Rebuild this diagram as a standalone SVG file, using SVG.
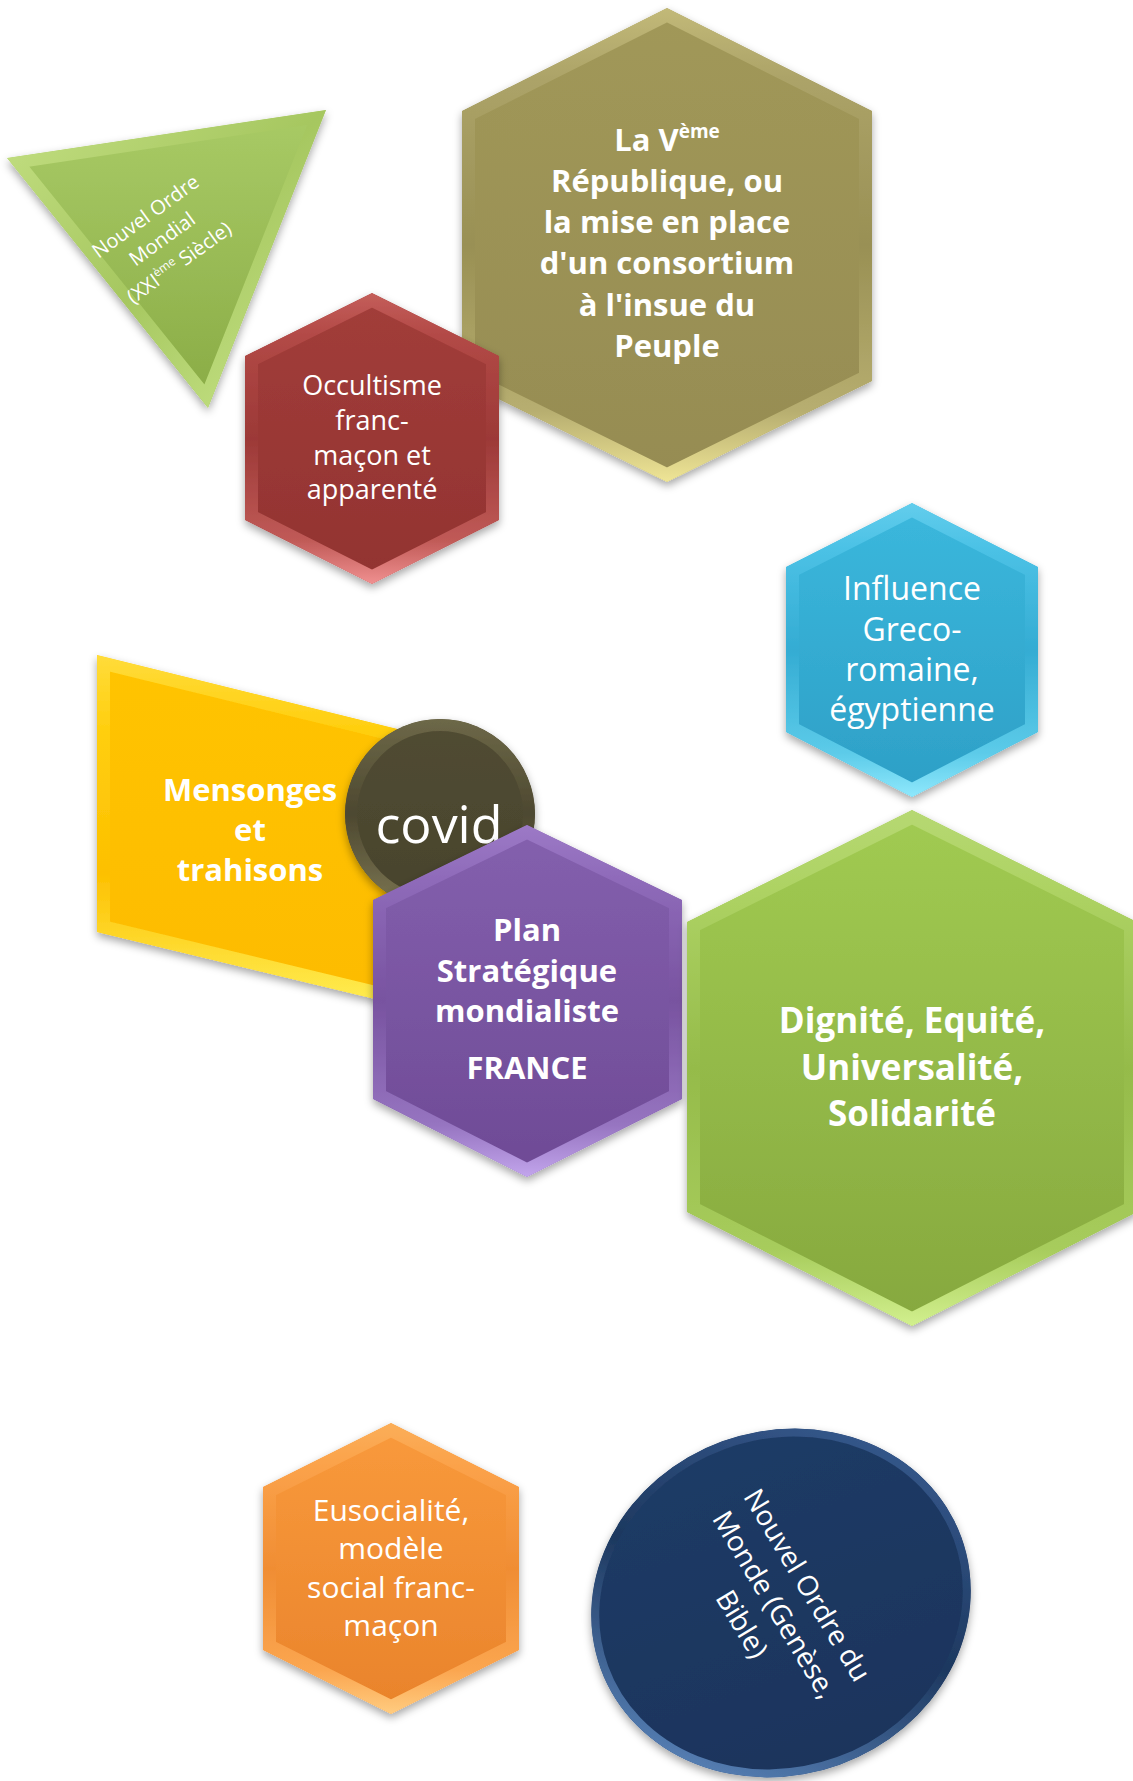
<svg xmlns="http://www.w3.org/2000/svg" width="1133" height="1781" viewBox="0 0 1133 1781">
<style>
.t{font-family:"Open Sans","DejaVu Sans",sans-serif;fill:#ffffff;text-anchor:middle}
.b{font-weight:700}
.bev{stroke-linejoin:miter}
</style>
<defs>
<filter id="sh" x="-15%" y="-15%" width="130%" height="135%">
<feDropShadow dx="0" dy="4" stdDeviation="4" flood-color="#000" flood-opacity="0.35"/>
</filter>
<linearGradient id="triB" x1="0" y1="0" x2="0" y2="1"><stop offset="0" stop-color="#a9cb66"/><stop offset="1" stop-color="#89ab45"/></linearGradient>
<linearGradient id="triS" x1="0" y1="0" x2="1" y2="1"><stop offset="0" stop-color="#c3df82"/><stop offset="0.5" stop-color="#a6c760"/><stop offset="1" stop-color="#c9e68a"/></linearGradient>
<linearGradient id="olB" x1="0" y1="0" x2="0" y2="1"><stop offset="0" stop-color="#a19859"/><stop offset="1" stop-color="#968c52"/></linearGradient>
<linearGradient id="olS" x1="0" y1="0" x2="0" y2="1"><stop offset="0" stop-color="#c2b978"/><stop offset="0.15" stop-color="#aca368"/><stop offset="0.5" stop-color="#999054"/><stop offset="0.85" stop-color="#b7ae70"/><stop offset="1" stop-color="#efe596"/></linearGradient>
<linearGradient id="reB" x1="0" y1="0" x2="0" y2="1"><stop offset="0" stop-color="#a23d3a"/><stop offset="1" stop-color="#923331"/></linearGradient>
<linearGradient id="reS" x1="0" y1="0" x2="0" y2="1"><stop offset="0" stop-color="#c45e5a"/><stop offset="0.15" stop-color="#b24946"/><stop offset="0.5" stop-color="#9c3937"/><stop offset="0.85" stop-color="#c05a57"/><stop offset="1" stop-color="#f09090"/></linearGradient>
<linearGradient id="blB" x1="0" y1="0" x2="0" y2="1"><stop offset="0" stop-color="#3bb8dd"/><stop offset="1" stop-color="#2d9fc6"/></linearGradient>
<linearGradient id="blS" x1="0" y1="0" x2="0" y2="1"><stop offset="0" stop-color="#62cdec"/><stop offset="0.15" stop-color="#4cc2e6"/><stop offset="0.5" stop-color="#34acd3"/><stop offset="0.85" stop-color="#5ccbe9"/><stop offset="1" stop-color="#8fe8fc"/></linearGradient>
<linearGradient id="yeB" x1="0" y1="0" x2="0" y2="1"><stop offset="0" stop-color="#ffc400"/><stop offset="1" stop-color="#fdbb00"/></linearGradient>
<linearGradient id="yeS" x1="0" y1="0" x2="0" y2="1"><stop offset="0" stop-color="#ffdc3a"/><stop offset="0.2" stop-color="#ffcf10"/><stop offset="0.6" stop-color="#fdc000"/><stop offset="1" stop-color="#fff25a"/></linearGradient>
<linearGradient id="coB" x1="0" y1="0" x2="0" y2="1"><stop offset="0" stop-color="#514c33"/><stop offset="1" stop-color="#48432c"/></linearGradient>
<linearGradient id="coS" x1="0" y1="0" x2="0" y2="1"><stop offset="0" stop-color="#6d6848"/><stop offset="0.5" stop-color="#4d4830"/><stop offset="1" stop-color="#7d7753"/></linearGradient>
<linearGradient id="puB" x1="0" y1="0" x2="0" y2="1"><stop offset="0" stop-color="#8460ae"/><stop offset="1" stop-color="#6e4a95"/></linearGradient>
<linearGradient id="puS" x1="0" y1="0" x2="0" y2="1"><stop offset="0" stop-color="#9c79c6"/><stop offset="0.15" stop-color="#8f6bba"/><stop offset="0.5" stop-color="#7853a0"/><stop offset="0.85" stop-color="#9674c0"/><stop offset="1" stop-color="#c2a5ec"/></linearGradient>
<linearGradient id="grB" x1="0" y1="0" x2="0" y2="1"><stop offset="0" stop-color="#a1cb52"/><stop offset="1" stop-color="#86a83e"/></linearGradient>
<linearGradient id="grS" x1="0" y1="0" x2="0" y2="1"><stop offset="0" stop-color="#b6d872"/><stop offset="0.15" stop-color="#aed364"/><stop offset="0.5" stop-color="#95bb4a"/><stop offset="0.85" stop-color="#a7cc5c"/><stop offset="1" stop-color="#d2f08e"/></linearGradient>
<linearGradient id="orB" x1="0" y1="0" x2="0" y2="1"><stop offset="0" stop-color="#f99a3c"/><stop offset="1" stop-color="#e9832b"/></linearGradient>
<linearGradient id="orS" x1="0" y1="0" x2="0" y2="1"><stop offset="0" stop-color="#fbae58"/><stop offset="0.15" stop-color="#fba24a"/><stop offset="0.5" stop-color="#f08d33"/><stop offset="0.85" stop-color="#fba650"/><stop offset="1" stop-color="#ffcc80"/></linearGradient>
<linearGradient id="naB" x1="0" y1="0" x2="0" y2="1"><stop offset="0" stop-color="#1f3b66"/><stop offset="1" stop-color="#1b345c"/></linearGradient>
<linearGradient id="naS" x1="1" y1="0" x2="0" y2="1"><stop offset="0" stop-color="#3d629a"/><stop offset="0.5" stop-color="#1d385f"/><stop offset="1" stop-color="#6a98d2"/></linearGradient>
<clipPath id="cTri"><polygon points="7,158 326,110 208,408"/></clipPath>
<clipPath id="cOl"><polygon points="667,8 462,111 462,381 667,482 872,381 872,111"/></clipPath>
<clipPath id="cRe"><polygon points="372,293 245,356 245,520 372,584 499,520 499,356"/></clipPath>
<clipPath id="cBl"><polygon points="912,503 786,567 786,732 912,797 1038,732 1038,567"/></clipPath>
<clipPath id="cYe"><polygon points="97,655 450,742 450,1017 97,932"/></clipPath>
<clipPath id="cCo"><circle cx="440" cy="814" r="95"/></clipPath>
<clipPath id="cPu"><polygon points="527,825 373,900 373,1099 527,1177 682,1099 682,900"/></clipPath>
<clipPath id="cGr"><polygon points="912,810 687,922 687,1212 912,1326 1137,1212 1137,922"/></clipPath>
<clipPath id="cOr"><polygon points="391,1423 263,1487 263,1650 391,1714 519,1650 519,1487"/></clipPath>
<clipPath id="cNa"><ellipse cx="781" cy="1603" rx="192" ry="172" transform="rotate(-20 781 1603)"/></clipPath>
</defs>

<g id="connectors"></g>

<g id="node-nouvel-ordre-mondial">
<g filter="url(#sh)"><g clip-path="url(#cTri)"><polygon class="bev" points="7,158 326,110 208,408" fill="url(#triB)" stroke="url(#triS)" stroke-width="24"/></g></g>
<g transform="translate(162,239) rotate(-36)">
<text class="t" font-size="20" x="0" y="-21">Nouvel Ordre</text>
<text class="t" font-size="20" x="0" y="7">Mondial</text>
<text class="t" font-size="20" x="0" y="36">(XXI<tspan font-size="12" dy="-8">ème</tspan><tspan dy="8"> Siècle)</tspan></text>
</g>
</g>

<g id="node-veme-republique">
<g filter="url(#sh)"><g clip-path="url(#cOl)"><polygon class="bev" points="667,8 462,111 462,381 667,482 872,381 872,111" fill="url(#olB)" stroke="url(#olS)" stroke-width="26"/></g></g>
<text class="t b" font-size="31" x="667" y="151">La V<tspan font-size="19" dy="-13">ème</tspan></text>
<text class="t b" font-size="31" x="667" y="192">République, ou</text>
<text class="t b" font-size="31" x="667" y="233">la mise en place</text>
<text class="t b" font-size="31" x="667" y="274">d'un consortium</text>
<text class="t b" font-size="31" x="667" y="316">à l'insue du</text>
<text class="t b" font-size="31" x="667" y="357">Peuple</text>
</g>

<g id="node-occultisme">
<g filter="url(#sh)"><g clip-path="url(#cRe)"><polygon class="bev" points="372,293 245,356 245,520 372,584 499,520 499,356" fill="url(#reB)" stroke="url(#reS)" stroke-width="26"/></g></g>
<text class="t" font-size="27" x="372" y="395">Occultisme</text>
<text class="t" font-size="27" x="372" y="430">franc-</text>
<text class="t" font-size="27" x="372" y="465">maçon et</text>
<text class="t" font-size="27" x="372" y="499">apparenté</text>
</g>

<g id="node-influence">
<g filter="url(#sh)"><g clip-path="url(#cBl)"><polygon class="bev" points="912,503 786,567 786,732 912,797 1038,732 1038,567" fill="url(#blB)" stroke="url(#blS)" stroke-width="26"/></g></g>
<text class="t" font-size="32" x="912" y="600">Influence</text>
<text class="t" font-size="32" x="912" y="641">Greco-</text>
<text class="t" font-size="32" x="912" y="681">romaine,</text>
<text class="t" font-size="32" x="912" y="721">égyptienne</text>
</g>

<g id="node-mensonges">
<g filter="url(#sh)"><g clip-path="url(#cYe)"><polygon class="bev" points="97,655 450,742 450,1017 97,932" fill="url(#yeB)" stroke="url(#yeS)" stroke-width="26"/></g></g>
<text class="t b" font-size="31" x="250" y="801">Mensonges</text>
<text class="t b" font-size="31" x="250" y="841">et</text>
<text class="t b" font-size="31" x="250" y="881">trahisons</text>
</g>

<g id="node-covid">
<g filter="url(#sh)"><g clip-path="url(#cCo)"><circle cx="440" cy="814" r="95" fill="url(#coB)" stroke="url(#coS)" stroke-width="24"/></g></g>
<text class="t" font-size="52" x="439" y="843">covid</text>
</g>

<g id="node-plan-strategique">
<g filter="url(#sh)"><g clip-path="url(#cPu)"><polygon class="bev" points="527,825 373,900 373,1099 527,1177 682,1099 682,900" fill="url(#puB)" stroke="url(#puS)" stroke-width="26"/></g></g>
<text class="t b" font-size="31" x="527" y="941">Plan</text>
<text class="t b" font-size="31" x="527" y="982">Stratégique</text>
<text class="t b" font-size="31" x="527" y="1022">mondialiste</text>
<text class="t b" font-size="31" x="527" y="1079">FRANCE</text>
</g>

<g id="node-dignite">
<g filter="url(#sh)"><g clip-path="url(#cGr)"><polygon class="bev" points="912,810 687,922 687,1212 912,1326 1137,1212 1137,922" fill="url(#grB)" stroke="url(#grS)" stroke-width="26"/></g></g>
<text class="t b" font-size="35" x="912" y="1033">Dignité, Equité,</text>
<text class="t b" font-size="35" x="912" y="1080">Universalité,</text>
<text class="t b" font-size="35" x="912" y="1126">Solidarité</text>
</g>

<g id="node-eusocialite">
<g filter="url(#sh)"><g clip-path="url(#cOr)"><polygon class="bev" points="391,1423 263,1487 263,1650 391,1714 519,1650 519,1487" fill="url(#orB)" stroke="url(#orS)" stroke-width="26"/></g></g>
<text class="t" font-size="30" x="391" y="1521">Eusocialité,</text>
<text class="t" font-size="30" x="391" y="1559">modèle</text>
<text class="t" font-size="30" x="391" y="1598">social franc-</text>
<text class="t" font-size="30" x="391" y="1636">maçon</text>
</g>

<g id="node-nouvel-ordre-du-monde">
<g filter="url(#sh)"><g clip-path="url(#cNa)"><ellipse cx="781" cy="1603" rx="192" ry="172" transform="rotate(-20 781 1603)" fill="url(#naB)" stroke="url(#naS)" stroke-width="16"/></g></g>
<g transform="translate(774,1605) rotate(59)">
<text class="t" font-size="28" x="0" y="-29">Nouvel Ordre du</text>
<text class="t" font-size="28" x="0" y="9">Monde (Genèse,</text>
<text class="t" font-size="28" x="0" y="47">Bible)</text>
</g>
</g>
</svg>
